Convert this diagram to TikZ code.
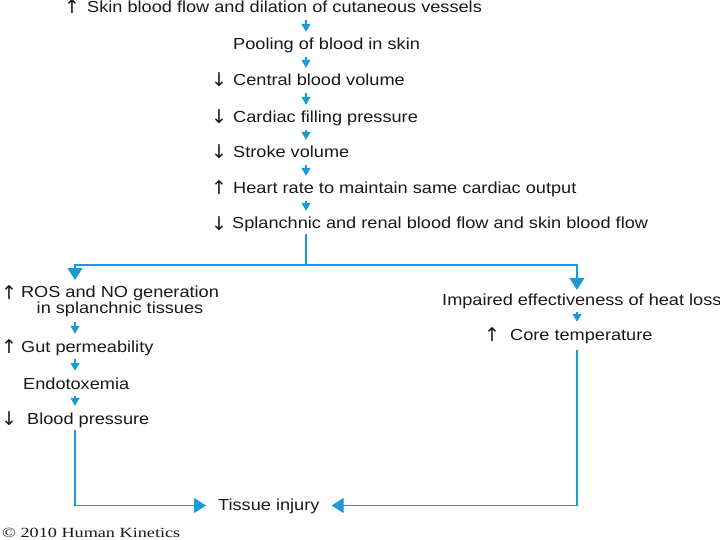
\documentclass[tikz,border=0pt]{standalone}
\usepackage{fontspec}
\setmainfont{Liberation Sans}[FakeStretch=1.135]
\newfontfamily\symfont{DejaVu Sans}
\newfontfamily\copyfont{Liberation Serif}[FakeStretch=1.3]
\usetikzlibrary{arrows.meta}
\definecolor{flowblue}{RGB}{25,155,215}
\definecolor{txt}{RGB}{25,25,25}
\begin{document}
\begin{tikzpicture}[x=1pt,y=-1pt,
  lbl/.style={anchor=base west, inner sep=0pt, text height=12pt, text depth=3pt,
    font=\fontsize{16}{18}\selectfont, text=txt},
  sym/.style={anchor=base, inner sep=0pt, font=\symfont\fontsize{19}{20}\selectfont, text=txt},
  small/.style={draw=flowblue, line width=1.3pt, shorten <=4pt, shorten >=6pt,
    -{Triangle[width=9pt,length=8pt]}},
  big/.style={draw=flowblue, line width=1.3pt, -{Triangle[width=15pt,length=12pt]}},
  link/.style={draw=flowblue, line width=1.3pt}]
\useasboundingbox (0,0) rectangle (720,540);
\fill[white] (0,0) rectangle (720,540);
\coordinate (mx) at (306,0);
\coordinate (lx) at (75,0);
\coordinate (rx) at (577,0);
\coordinate (hy) at (0,265);
% main column
\node[sym] (s1) at (72,14) {↑};
\node[lbl] (t1) at (87,13) {Skin blood flow and dilation of cutaneous vessels};
\node[lbl] (t2) at (233,50) {Pooling of blood in skin};
\node[sym] (s3) at (219,87) {↓};
\node[lbl] (t3) at (233,86) {Central blood volume};
\node[sym] (s4) at (219,124) {↓};
\node[lbl] (t4) at (233,123) {Cardiac filling pressure};
\node[sym] (s5) at (219,159) {↓};
\node[lbl] (t5) at (233,158) {Stroke volume};
\node[sym] (s6) at (219,195) {↑};
\node[lbl] (t6) at (233,194) {Heart rate to maintain same cardiac output};
\node[sym] (s7) at (219,230) {↓};
\node[lbl] (t7) at (232,229) {Splanchnic and renal blood flow and skin blood flow};
% left column
\node[sym] (s8) at (9,299) {↑};
\node[anchor=north, inner sep=0pt, align=center, text=txt,
  font=\fontsize{16}{16}\selectfont] (ros) at (120,285.5)
  {ROS and NO generation\\in splanchnic tissues};
\node[sym] (s9) at (9,353) {↑};
\node[lbl] (gut) at (21,352) {Gut permeability};
\node[lbl] (endo) at (23,389) {Endotoxemia};
\node[sym] (s10) at (9,425) {↓};
\node[lbl] (bp) at (27,424) {Blood pressure};
% right column
\node[lbl] (imp) at (442,305) {Impaired effectiveness of heat loss};
\node[sym] (s11) at (492,341) {↑};
\node[lbl] (core) at (510,340) {Core temperature};
% bottom
\node[lbl, inner xsep=12pt] (inj) at (206,510) {Tissue injury};
\node[anchor=base west, inner sep=0pt, font=\copyfont\fontsize{14}{16}\selectfont, text=txt] (copy) at (2,537) {© 2010 Human Kinetics};
% connectors
\draw[small] (t1.south -| mx) -- (t2.north -| mx);
\draw[small] (t2.south -| mx) -- (t3.north -| mx);
\draw[small] (t3.south -| mx) -- (t4.north -| mx);
\draw[small] (t4.south -| mx) -- (t5.north -| mx);
\draw[small] (t5.south -| mx) -- (t6.north -| mx);
\draw[small] (t6.south -| mx) -- (t7.north -| mx);
\draw[link, shorten <=2pt] (t7.south -| mx) -- (mx |- hy);
\draw[big, shorten >=5.5pt] (mx |- hy) -| (ros.north -| lx);
\draw[big, shorten >=3pt] (mx |- hy) -| (imp.north -| rx);
\draw[small, shorten <=5pt] (ros.south -| lx) -- (gut.north -| lx);
\draw[small] (gut.south -| lx) -- (endo.north -| lx);
\draw[small] (endo.south -| lx) -- (bp.north -| lx);
\draw[small] (imp.south -| rx) -- (core.north -| rx);
\draw[big, shorten <=3pt] (bp.south -| lx) |- (inj.west);
\draw[big, shorten <=7pt] (core.south -| rx) |- (inj.east);
\end{tikzpicture}
\end{document}
